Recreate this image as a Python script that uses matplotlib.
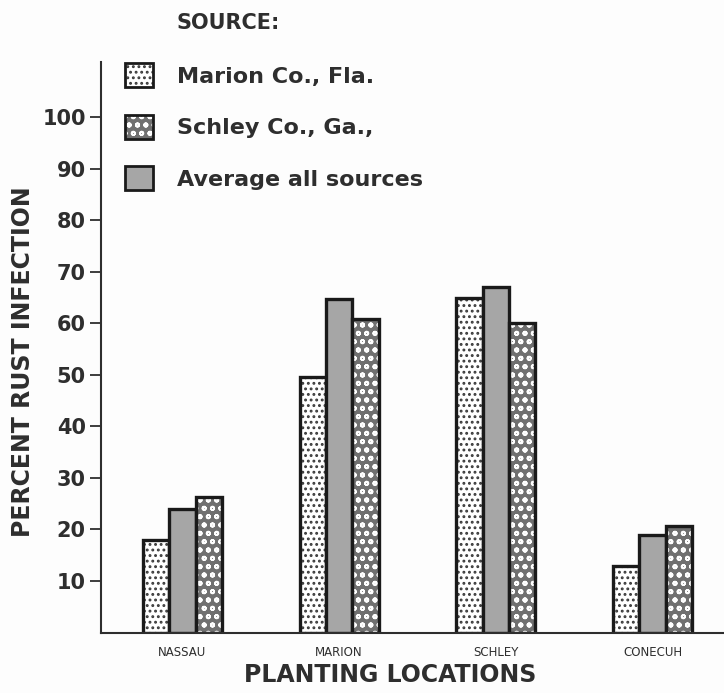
import matplotlib
matplotlib.use("Agg")
import matplotlib.pyplot as plt
from matplotlib.patches import Patch
import numpy as np

locations = ["NASSAU", "MARION", "SCHLEY", "CONECUH"]
marion_src = [18.0, 49.6, 64.9, 13.0]
average_all = [24.0, 64.7, 67.0, 18.9]
schley_src = [26.3, 60.8, 60.0, 20.6]
yticks = [10, 20, 30, 40, 50, 60, 70, 80, 90, 100]

plt.rcParams['hatch.linewidth'] = 1.3
cond = ['DejaVu Sans']
ink = '#2e2e2e'
edge = '#1a1a1a'

fig = plt.figure(figsize=(7.24, 6.93), dpi=100, facecolor='#fdfdfd')
ax = fig.add_axes([0.1395, 0.0872, 0.87, 0.8233])
ax.set_facecolor('#fdfdfd')

x = np.arange(len(locations))
w = 0.168
fills = {
    'dots': dict(facecolor='white', hatch='...', edgecolor='#3a3a3a'),
    'gray': dict(facecolor='#a6a6a6', hatch=None, edgecolor='#a6a6a6'),
    'circ': dict(facecolor='#707070', hatch='oo', edgecolor='white'),
}
series = [(x - w, marion_src, 'dots'), (x, average_all, 'gray'), (x + w, schley_src, 'circ')]
for pos, vals, key in series:
    ax.bar(pos, vals, w, linewidth=0, **fills[key])
    ax.bar(pos, vals, w, facecolor='none', edgecolor=edge, linewidth=2.4)

ax.set_xlim(-0.519, 3.5)
ax.set_ylim(0, 110.7)
ax.set_yticks(yticks)
ax.set_yticklabels([str(v) for v in yticks], fontfamily=cond, fontsize=15,
                   fontweight='bold', color=ink)
ax.set_xticks(x)
ax.set_xticklabels(locations, fontfamily='DejaVu Sans', fontsize=8.5, color=ink)
ax.tick_params(axis='y', direction='out', length=8, width=1.3, color=ink, pad=3)
ax.tick_params(axis='x', length=0, pad=10)
for s in ['top', 'right']:
    ax.spines[s].set_visible(False)
for s in ['left', 'bottom']:
    ax.spines[s].set_linewidth(1.5)
    ax.spines[s].set_color(ink)

fig.text(0.032, 0.478, "PERCENT RUST INFECTION", rotation=90, ha='center', va='center',
         fontfamily=cond, fontsize=17, fontweight='bold', color=ink)
fig.text(0.539, 0.026, "PLANTING LOCATIONS", ha='center', va='center',
         fontfamily=cond, fontsize=17, fontweight='bold', color=ink)
fig.text(0.244, 0.967, "SOURCE:", ha='left', va='center',
         fontfamily=cond, fontsize=15, fontweight='bold', color=ink)

def handle(key):
    return (Patch(linewidth=0, **fills[key]),
            Patch(facecolor='none', edgecolor=edge, linewidth=2.0))

handles = [handle('dots'), handle('circ'), handle('gray')]
labels = ["Marion Co., Fla.", "Schley Co., Ga.,", "Average all sources"]
leg = fig.legend(handles, labels, loc='upper left', bbox_to_anchor=(0.172, 0.909),
                 frameon=False, prop={'family': cond, 'size': 16, 'weight': 'bold'},
                 handlelength=1.3, handleheight=1.3, labelspacing=1.23,
                 handletextpad=1.05, borderpad=0, borderaxespad=0)
for t in leg.get_texts():
    t.set_color(ink)

fig.savefig("out.png", dpi=100, facecolor=fig.get_facecolor())
